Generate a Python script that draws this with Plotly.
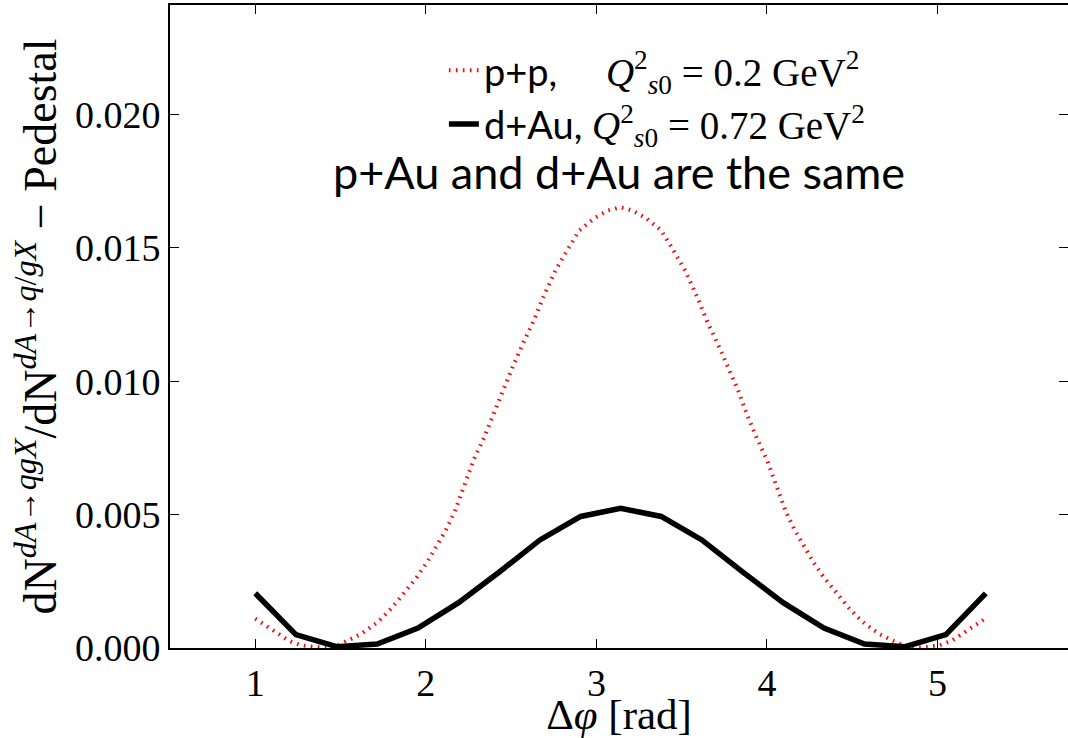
import plotly.graph_objects as go

# ---- data ----
red_x = [1.00, 1.08, 1.14, 1.20, 1.27, 1.36, 1.45, 1.53, 1.62, 1.72, 1.80, 1.88, 1.95, 2.01,
         2.06, 2.12, 2.17, 2.23, 2.28, 2.34, 2.40, 2.45, 2.51, 2.57, 2.63, 2.69, 2.76, 2.83,
         2.90, 2.99, 3.07, 3.14,
         3.21, 3.29, 3.38, 3.45, 3.52, 3.59, 3.65, 3.71, 3.77, 3.83, 3.88, 3.94, 4.00, 4.05,
         4.11, 4.16, 4.22, 4.27, 4.33, 4.40, 4.48, 4.56, 4.66, 4.75, 4.83, 4.92, 5.01, 5.08,
         5.14, 5.20, 5.28]
red_y = [0.00110, 0.00075, 0.00050, 0.00026, 0.00010, 0.00003, 0.00000, 0.00024, 0.00052,
         0.00098, 0.00150, 0.00212, 0.00268, 0.00324, 0.00380, 0.00445, 0.00512, 0.00615,
         0.00705, 0.00787, 0.00880, 0.00967, 0.01055, 0.01142, 0.01223, 0.01317, 0.01415,
         0.01492, 0.01565, 0.01612, 0.01640, 0.01652,
         0.01640, 0.01612, 0.01565, 0.01492, 0.01415, 0.01317, 0.01223, 0.01142, 0.01055,
         0.00967, 0.00880, 0.00787, 0.00705, 0.00615, 0.00512, 0.00445, 0.00380, 0.00324,
         0.00268, 0.00212, 0.00150, 0.00098, 0.00052, 0.00024, 0.00000, 0.00003, 0.00010,
         0.00026, 0.00050, 0.00075, 0.00110]

black_x = [1.000, 1.238, 1.477, 1.715, 1.954, 2.192, 2.431, 2.669, 2.908, 3.142,
           3.380, 3.618, 3.857, 4.095, 4.334, 4.572, 4.810, 5.049, 5.283]
black_y = [0.00205, 0.00050, 0.00005, 0.00015, 0.00075, 0.00170, 0.00285, 0.00405, 0.00493,
           0.00524, 0.00493, 0.00405, 0.00285, 0.00170, 0.00075, 0.00015, 0.00005, 0.00050,
           0.00205]

y_ticks = [0.000, 0.005, 0.010, 0.015, 0.020]
x_ticks = [1, 2, 3, 4, 5]

SERIF = "Liberation Serif"
SANS = "Lato"

fig = go.Figure()
fig.add_trace(go.Scatter(
    x=red_x, y=red_y, mode="lines",
    line=dict(color="#ff0000", width=4, dash="1.6px,5.4px"),
    name=f'<span style="font-family:{SANS};font-size:38px">p+p,</span>     <i>Q</i><sup>2</sup><sub><i>s</i>0</sub> = 0.2 GeV<sup>2</sup>',
))
fig.add_trace(go.Scatter(
    x=black_x, y=black_y, mode="lines",
    line=dict(color="black", width=5.5),
    name=f'<span style="font-family:{SANS};font-size:38px">d+Au,</span> <i>Q</i><sup>2</sup><sub><i>s</i>0</sub> = 0.72 GeV<sup>2</sup>',
))

axis_common = dict(
    showline=True, linecolor="black", linewidth=2, mirror="ticks",
    ticks="inside", ticklen=9, tickwidth=1, tickcolor="black",
    showgrid=False, zeroline=False, automargin=False,
    tickfont=dict(family=SERIF, size=38, color="black"),
)

fig.update_xaxes(
    range=[0.5, 5.765], tickvals=x_ticks, ticktext=[str(v) for v in x_ticks],
    title=dict(text="Δ<i>φ</i> [rad]", font=dict(family=SERIF, size=43, color="black"),
               standoff=4),
    **axis_common,
)
fig.update_yaxes(
    range=[0, 0.0241], tickvals=y_ticks, ticktext=[f"{v:.3f}" for v in y_ticks],
    title=dict(text="dN<sup><i>dA</i>→<i>qgX</i></sup>/dN<sup><i>dA</i>→<i>q</i>/<i>gX</i></sup> − Pedestal",
               font=dict(family=SERIF, size=46, color="black"), standoff=4),
    **axis_common,
)

fig.add_annotation(
    text="p+Au and d+Au are the same", xref="paper", yref="paper",
    x=0.5, y=(738 - 90 - 172) / (738 - 5 - 90), xanchor="center", yanchor="middle",
    showarrow=False, font=dict(family=SANS, size=45, color="black"),
)

fig.update_layout(
    width=1068, height=738,
    margin=dict(l=170, r=0, t=5, b=90, autoexpand=False),
    paper_bgcolor="white", plot_bgcolor="white",
    showlegend=True,
    legend=dict(
        x=0.305, y=0.948, xanchor="left", yanchor="top",
        bgcolor="rgba(0,0,0,0)", borderwidth=0,
        font=dict(family=SERIF, size=39, color="black"),
        tracegroupgap=0,
    ),
)

fig.write_html("out.html")
